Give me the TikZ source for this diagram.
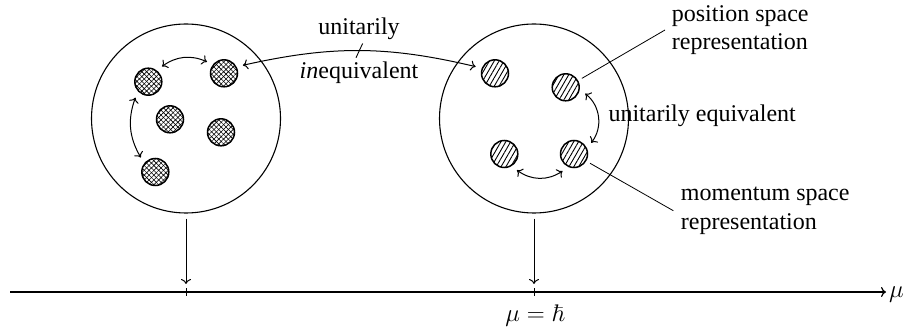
\documentclass[tikz,border=0pt]{standalone}
\usepackage{amssymb}
\usepackage[no-math]{fontspec}
\setmainfont{Liberation Serif}
\usetikzlibrary{arrows.meta,patterns.meta,calc}
\begin{document}
\begin{tikzpicture}[x=1pt,y=1pt,
  font=\fontsize{24}{28.3}\selectfont,
  >={Computer Modern Rightarrow[length=5pt,width=10pt]},
  big/.style={circle,draw,line width=1.1pt,minimum size=189pt,inner sep=0pt},
  blob/.style={circle,draw,line width=1.5pt,minimum size=27pt,inner sep=0pt,outer sep=7pt},
  crossblob/.style={blob,
    preaction={pattern={Lines[angle=45,distance=3.4pt,line width=0.6pt]}},
    preaction={pattern={Lines[angle=-45,distance=3.4pt,line width=0.6pt]}}},
  lineblob/.style={blob,
    preaction={pattern={Lines[angle=60,distance=4.2pt,line width=0.9pt]}}},
  conn/.style={<->,line width=1pt},
  leader/.style={line width=0.8pt,shorten <=-2pt},
  lab/.style={anchor=base west,align=left,inner sep=0pt}]
\useasboundingbox (0,0) rectangle (904,329);

% big circles
\node[big] (L) at (186,210.5) {};
\node[big] (R) at (534,210.5) {};

% left blobs
\node[crossblob] (l1) at (148.3,247.3) {};
\node[crossblob] (l2) at (224,255.7) {};
\node[crossblob] (l3) at (170,209.7) {};
\node[crossblob] (l4) at (221,196.7) {};
\node[crossblob] (l5) at (155.3,157) {};

% right blobs
\node[lineblob] (r1) at (495,255.7) {};
\node[lineblob] (r2) at (565.7,241.7) {};
\node[lineblob] (r3) at (504.3,175) {};
\node[lineblob] (r4) at (574,175) {};

% arrows inside circles
\draw[conn] (l1.48) to[bend left=30] (l2.146);
\draw[conn] (l1.231) to[bend right=25] (l5.135);
\draw[conn] (r2.342) to[bend left=45] (r4.33);
\draw[conn] (r3.308) to[bend right=35] (r4.236);

% inequivalent arrow
\draw[conn] (l2.23) to[bend left=13] coordinate[pos=.5] (mid) (r1.161);
\draw[line width=0.9pt] ($(mid)+(-3.3,-7.1)$) -- ($(mid)+(3.3,7.1)$);
\node[anchor=base,inner sep=0pt] (ui1) at (359,294.7) {unitarily};
\node[anchor=base,inner sep=0pt] (ui2) at (359,250) {\textit{in}equivalent};

% labels right
\node[lab] (pos) at (671.7,279) {position space\\representation};
\node[lab] (ue) at (608.3,207.3) {unitarily equivalent};
\node[lab] (mom) at (680.7,99.7) {momentum space\\representation};
\coordinate (pe) at (665,299);
\coordinate (me) at (673.3,118.3);
\draw[leader] (r2.29) -- (pe);
\draw[leader] (r4.330) -- (me);

% axis
\coordinate (a0) at (10,37);
\coordinate (a1) at (886,37);
\coordinate (t1) at (186,37);
\coordinate (t2) at (534,37);
\draw[->,line width=1.2pt] (a0) -- (a1);
\node[anchor=west,inner sep=0pt] (mu) at (889,34) {$\mu$};
\draw[line width=1pt] ([yshift=-4pt]t1) -- ([yshift=4pt]t1);
\draw[line width=1pt] ([yshift=-4pt]t2) -- ([yshift=4pt]t2);
\draw[->,line width=1pt] ([yshift=-5pt]L.south) -- ([yshift=8pt]t1);
\draw[->,line width=1pt] ([yshift=-5pt]R.south) -- ([yshift=8pt]t2);
\node[anchor=base,inner sep=0pt] (hb) at (535,8) {$\mu = \hbar$};
\end{tikzpicture}
\end{document}
